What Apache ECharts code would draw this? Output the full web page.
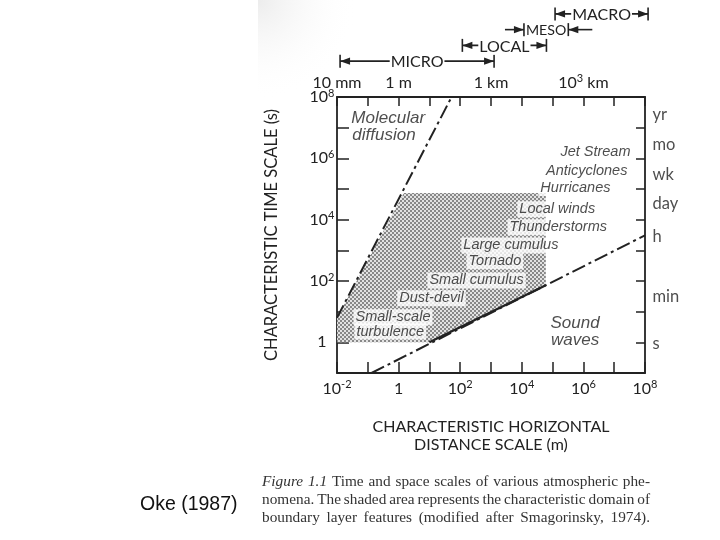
<!DOCTYPE html>
<html><head><meta charset="utf-8">
<script src="https://cdn.jsdelivr.net/npm/echarts@6/dist/echarts.min.js"></script>
<style>html,body{margin:0;padding:0;background:#fff}#c{width:720px;height:540px}</style>
</head><body><div id="c"></div>
<script>
// ---- data (log10 of metres on x, log10 of seconds on y) ----
const xRange = [-2, 8];
const yRange = [-1, 8];
const topTickPos = [-2, 0, 3, 6];
const topTickText = ['10 mm', '1 m', '1 km', '10^3 km'];
const shadeX = [-2, 1.0, 4.78, 4.78, 0.17, -2];
const shadeY = [0, 0, 1.86, 4.87, 4.87, 0.8];
const diffusionX = [-2, 1.72];
const diffusionY = [0.8, 8];
const soundX = [-0.88, 8];
const soundY = [-1, 3.49];
const phenomena = ['Jet Stream', 'Anticyclones', 'Hurricanes', 'Local winds', 'Thunderstorms',
  'Large cumulus', 'Tornado', 'Small cumulus', 'Dust-devil', 'Small-scale', 'turbulence'];
const phenX = [7.61, 7.51, 6.96, 3.84, 3.52, 2.02, 2.19, 0.92, -0.06, -1.48, -1.45];
const phenY = [6.2, 5.58, 5.03, 4.34, 3.75, 3.16, 2.64, 2.02, 1.44, 0.82, 0.35];
const phenSide = ['left', 'left', 'left', 'right', 'right', 'right', 'right', 'right', 'right', 'right', 'right'];
const regimes = ['Molecular', 'diffusion', 'Sound', 'waves'];
const regimeX = [-1.55, -1.52, 5.73, 5.73];
const regimeY = [7.31, 6.75, 0.62, 0.08];
const regimeSide = ['right', 'right', 'inside', 'inside'];
const timeNames = ['yr', 'mo', 'wk', 'day', 'h', 'min', 's'];
const timeY = [7.41, 6.43, 5.48, 4.52, 3.43, 1.49, -0.05];
const scaleNames = ['MICRO', 'LOCAL', 'MESO', 'MACRO'];
const scaleFrom = [-1.9, 2.07, 4.07, 5.08];
const scaleTo = [3.1, 4.8, 5.51, 8.1];
const scaleLevel = [1, 2, 3, 4];
const scaleInward = [0, 0, 1, 0];
const captionLines = [
  'Figure 1.1 Time and space scales of various atmospheric phe-',
  'nomena. The shaded area represents the characteristic domain of',
  'boundary layer features (modified after Smagorinsky, 1974).'
];

// ---- styles ----
const INK = '#222';
const SANS = 'Lato';
const ITAL = 'Liberation Sans';

const pat = document.createElement('canvas');
pat.width = 4; pat.height = 4;
const pc = pat.getContext('2d');
pc.fillStyle = '#e2e2e2'; pc.fillRect(0, 0, 4, 4);
pc.fillStyle = '#888888'; pc.fillRect(0, 0, 2, 2); pc.fillRect(2, 2, 2, 2);

const richNum = {
  b: { fontSize: 16, fontFamily: SANS, color: INK, lineHeight: 19 },
  s: { fontSize: 11, fontFamily: SANS, color: INK, lineHeight: 19, verticalAlign: 'top' }
};
function pow10(v) {
  if (v === 0) return '{b|1}';
  return '{b|10}{s|' + v + '}';
}
function supText(t) {
  const m = t.split('^');
  if (m.length === 1) return '{b|' + t + '}';
  const rest = m[1].split(' ');
  return '{b|' + m[0] + '}{s|' + rest[0] + '}{b| ' + rest.slice(1).join(' ') + '}';
}

const mc = document.createElement('canvas').getContext('2d');

// justified caption, word by word
const capFont = '15.3px "Liberation Serif"';
const capItal = 'italic 15.3px "Liberation Serif"';
const capLeft = 262, capRight = 650, capTop = 482, capLH = 18;
const captionGraphics = [];
captionLines.forEach((line, li) => {
  const words = line.split(' ');
  const fonts = words.map((w, wi) => (li === 0 && wi < 2 ? capItal : capFont));
  const widths = words.map((w, wi) => { mc.font = fonts[wi]; return mc.measureText(w).width; });
  const total = widths.reduce((a, b) => a + b, 0);
  const gap = (capRight - capLeft - total) / (words.length - 1);
  let x = capLeft;
  words.forEach((w, wi) => {
    captionGraphics.push({ type: 'text', x: x, y: capTop + li * capLH, silent: true,
      style: { text: w, font: fonts[wi], fill: '#333', verticalAlign: 'middle' } });
    x += widths[wi] + gap;
  });
});

const chart = echarts.init(document.getElementById('c'), null, { renderer: 'canvas' });
const axisLine = { show: true, onZero: false, lineStyle: { color: INK, width: 1.8 } };
const tick = (len) => ({ show: true, inside: true, length: len, lineStyle: { color: INK, width: 1.5 } });

const option = {
  animation: false,
  backgroundColor: '#fff',
  grid: [
    { left: 337, top: 97, width: 308, height: 276 },
    { left: 337, top: 6, width: 308, height: 63 }
  ],
  xAxis: [
    { type: 'value', gridIndex: 0, min: xRange[0], max: xRange[1], interval: 1, position: 'bottom',
      axisLine, axisTick: tick(11), splitLine: { show: false },
      axisLabel: { margin: 6, rich: richNum, formatter: v => (v % 2 === 0 ? pow10(v) : '') },
      name: 'CHARACTERISTIC HORIZONTAL\nDISTANCE SCALE (m)', nameLocation: 'middle', nameGap: 45,
      nameMoveOverlap: false,
      nameTextStyle: { fontFamily: SANS, fontSize: 16, color: INK, lineHeight: 18 } },
    { type: 'value', gridIndex: 0, min: xRange[0], max: xRange[1], interval: 1, position: 'top',
      axisLine, axisTick: tick(9), splitLine: { show: false },
      axisLabel: { margin: 5, rich: richNum, formatter: v => {
        const i = topTickPos.indexOf(v); return i < 0 ? '' : supText(topTickText[i]); } } },
    { type: 'value', gridIndex: 1, min: xRange[0], max: xRange[1], show: false }
  ],
  yAxis: [
    { type: 'value', gridIndex: 0, min: yRange[0], max: yRange[1], interval: 1, position: 'left',
      axisLine, axisTick: tick(12), splitLine: { show: false },
      axisLabel: { margin: 15, align: 'center', rich: richNum,
        formatter: v => (v >= 0 && v % 2 === 0 ? pow10(v) : '') },
      name: 'CHARACTERISTIC TIME SCALE (s)', nameLocation: 'middle', nameRotate: 90, nameGap: 57,
      nameMoveOverlap: false,
      nameTextStyle: { fontFamily: SANS, fontSize: 16.5, color: INK } },
    { type: 'value', gridIndex: 0, min: yRange[0], max: yRange[1], interval: 1, position: 'right',
      axisLine, axisTick: tick(9), splitLine: { show: false }, axisLabel: { show: false } },
    { type: 'value', gridIndex: 1, min: 0.5, max: 4.5, show: false }
  ],
  graphic: [
    { type: 'rect', left: 258, top: 0, z: -10, silent: true,
      shape: { width: 200, height: 100 },
      style: { fill: new echarts.graphic.RadialGradient(0, 0, 1, [
        { offset: 0, color: '#ececec' }, { offset: 1, color: 'rgba(255,255,255,0)' }]) } },
    { type: 'text', left: 140, top: 495, style: { text: 'Oke (1987)', font: '19.5px "Liberation Sans"', fill: '#111' } }
  ].concat(captionGraphics),
  series: [
    { type: 'custom', xAxisIndex: 0, yAxisIndex: 0, z: 1, silent: true,
      data: shadeX.map((x, i) => [x, shadeY[i]]),
      renderItem: (params, api) => {
        if (params.dataIndex !== 0) return null;
        const pts = shadeX.map((x, i) => api.coord([x, shadeY[i]]));
        return { type: 'polygon', shape: { points: pts }, style: { fill: { image: pat, repeat: 'repeat' } } };
      } },
    { type: 'line', xAxisIndex: 0, yAxisIndex: 0, z: 3, symbol: 'none', silent: true,
      data: diffusionX.map((x, i) => [x, diffusionY[i]]),
      lineStyle: { color: INK, width: 2, type: [14, 4, 3, 4] } },
    { type: 'line', xAxisIndex: 0, yAxisIndex: 0, z: 3, symbol: 'none', silent: true,
      data: soundX.map((x, i) => [x, soundY[i]]),
      lineStyle: { color: INK, width: 2, type: [14, 4, 3, 4] } },
    { type: 'line', xAxisIndex: 0, yAxisIndex: 0, z: 3, symbol: 'none', silent: true,
      data: [[shadeX[1], shadeY[1]], [shadeX[2], shadeY[2]]],
      lineStyle: { color: INK, width: 2.2 } },
    { type: 'scatter', xAxisIndex: 0, yAxisIndex: 0, z: 5, symbolSize: 1, silent: true,
      itemStyle: { color: 'rgba(0,0,0,0)' },
      data: phenomena.map((n, i) => ({ name: n, value: [phenX[i], phenY[i]],
        label: { position: phenSide[i] } })),
      label: { show: true, distance: 0, formatter: p => p.name, fontFamily: ITAL, fontStyle: 'italic',
        fontSize: 14.5, color: INK, backgroundColor: '#fff', padding: [1, 2, 0, 2] } },
    { type: 'scatter', xAxisIndex: 0, yAxisIndex: 0, z: 5, symbolSize: 1, silent: true,
      itemStyle: { color: 'rgba(0,0,0,0)' },
      data: regimes.map((n, i) => ({ name: n, value: [regimeX[i], regimeY[i]],
        label: { position: regimeSide[i] } })),
      label: { show: true, distance: 0, formatter: p => p.name, fontFamily: ITAL, fontStyle: 'italic',
        fontSize: 17, color: INK } },
    { type: 'scatter', xAxisIndex: 0, yAxisIndex: 0, z: 5, symbolSize: 1, silent: true,
      itemStyle: { color: 'rgba(0,0,0,0)' },
      data: timeNames.map((n, i) => ({ name: n, value: [xRange[1], timeY[i]] })),
      label: { show: true, position: 'right', distance: 7, formatter: p => p.name,
        fontFamily: SANS, fontSize: 16.5, color: INK } },
    { type: 'custom', xAxisIndex: 2, yAxisIndex: 2, silent: true, clip: false,
      data: scaleNames.map((n, i) => [scaleFrom[i], scaleTo[i], scaleLevel[i], i]),
      renderItem: (params, api) => {
        const i = api.value(3);
        const a = api.coord([api.value(0), api.value(2)]);
        const b = api.coord([api.value(1), api.value(2)]);
        const y = a[1], x1 = a[0], x2 = b[0];
        const h = 6.5, al = 10, aw = 3.6;
        const st = { stroke: INK, lineWidth: 1.6 };
        const fl = { fill: INK };
        const ch = [];
        // font size: shrink only if the name would not fit between inward bars
        let fs = 16;
        if (scaleInward[i]) {
          mc.font = fs + 'px ' + SANS;
          const w = mc.measureText(scaleNames[i]).width;
          const room = x2 - x1 - 4;
          if (w > room) fs = fs * room / w;
        }
        ch.push({ type: 'text', x: (x1 + x2) / 2, y: y + 1,
          style: { text: scaleNames[i], fill: INK, fontFamily: SANS, fontSize: fs,
            align: 'center', verticalAlign: 'middle', backgroundColor: scaleInward[i] ? null : '#fff', padding: [0, 1] } });
        if (!scaleInward[i]) {
          ch.unshift({ type: 'line', shape: { x1: x1, y1: y, x2: x2, y2: y }, style: st });
          ch.push({ type: 'polygon', shape: { points: [[x1, y], [x1 + al, y - aw], [x1 + al, y + aw]] }, style: fl });
          ch.push({ type: 'polygon', shape: { points: [[x2, y], [x2 - al, y - aw], [x2 - al, y + aw]] }, style: fl });
        } else {
          ch.push({ type: 'line', shape: { x1: x1 - 19, y1: y, x2: x1, y2: y }, style: st });
          ch.push({ type: 'line', shape: { x1: x2, y1: y, x2: x2 + 24, y2: y }, style: st });
          ch.push({ type: 'polygon', shape: { points: [[x1, y], [x1 - al, y - aw], [x1 - al, y + aw]] }, style: fl });
          ch.push({ type: 'polygon', shape: { points: [[x2, y], [x2 + al, y - aw], [x2 + al, y + aw]] }, style: fl });
        }
        ch.push({ type: 'line', shape: { x1: x1, y1: y - h, x2: x1, y2: y + h }, style: st });
        ch.push({ type: 'line', shape: { x1: x2, y1: y - h, x2: x2, y2: y + h }, style: st });
        return { type: 'group', children: ch };
      } }
  ]
};
chart.setOption(option);
</script></body></html>
